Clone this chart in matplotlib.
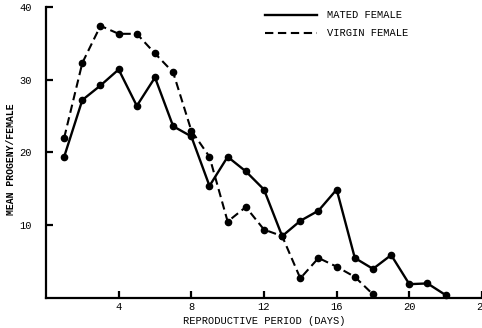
import matplotlib.pyplot as plt

# reproductive period (days)
days_mated = list(range(1, 23))
days_virgin = list(range(1, 19))

# mean progeny per female
mated = [19.4, 27.2, 29.2, 31.4, 26.4, 30.3, 23.6, 22.2, 15.4, 19.4, 17.4,
         14.9, 8.5, 10.6, 12.0, 14.9, 5.5, 4.0, 5.9, 1.9, 2.0, 0.4]
virgin = [22.0, 32.3, 37.4, 36.3, 36.3, 33.6, 31.0, 23.0, 19.4, 10.5, 12.5,
          9.4, 8.5, 2.7, 5.5, 4.3, 2.9, 0.5]

xticks = [4, 8, 12, 16, 20, 24]
xticklabels = ['4', '8', '12', '16', '20', '25']
yticks = [10, 20, 30, 40]

plt.rcParams['font.family'] = ['Liberation Mono', 'DejaVu Sans Mono']

fig = plt.figure(figsize=(4.82, 3.28), dpi=100)
ax = fig.add_axes([0.0954, 0.0915, 0.9046, 0.8875])

ax.plot(days_mated, mated, color='black', lw=1.7, marker='o', ms=4.5,
        label='MATED FEMALE', clip_on=False)
ax.plot(days_virgin, virgin, color='black', lw=1.5, marker='o', ms=4.5,
        dashes=(4, 2.2), label='VIRGIN FEMALE', clip_on=False)

ax.set_xlim(0, 24)
ax.set_ylim(0, 40)
ax.set_xticks(xticks)
ax.set_xticklabels(xticklabels)
ax.set_yticks(yticks)

ax.spines['top'].set_visible(False)
ax.spines['right'].set_visible(False)
for s in ['left', 'bottom']:
    ax.spines[s].set_linewidth(1.6)

ax.tick_params(axis='both', direction='in', length=5, width=1.6,
               labelsize=7.5)
ax.tick_params(axis='y', pad=10)
ax.tick_params(axis='x', pad=3)

ax.set_xlabel('REPRODUCTIVE PERIOD (DAYS)', fontsize=7.5, labelpad=3)
fig.text(0.022, 0.515, 'MEAN PROGENY/FEMALE', rotation=90, fontsize=7,
         fontweight='bold', ha='center', va='center')

leg = ax.legend(loc='upper right', bbox_to_anchor=(0.852, 1.02), frameon=False,
                fontsize=7.5, handlelength=5.0, handletextpad=0.9,
                labelspacing=0.75)
for h in leg.legend_handles:
    h.set_marker('')

fig.savefig('out.png', dpi=100)
